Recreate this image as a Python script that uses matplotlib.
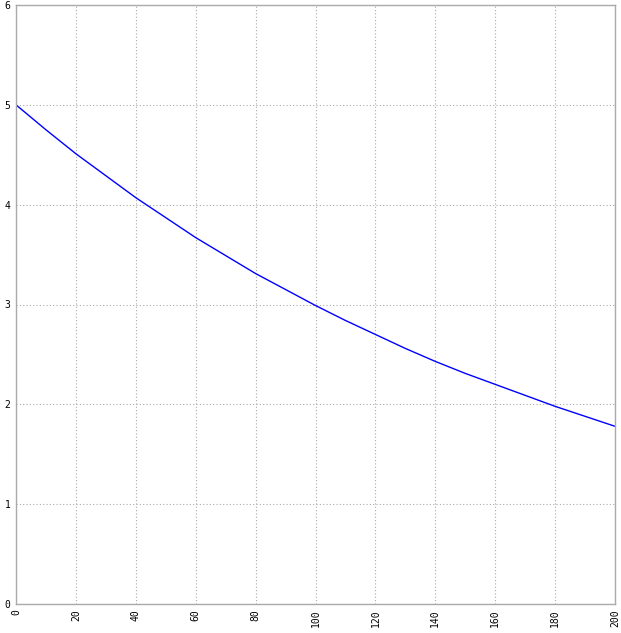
import matplotlib
matplotlib.use("Agg")
import matplotlib.pyplot as plt

x_values = [0, 10, 20, 30, 40, 50, 60, 70, 80, 90, 100, 110, 120, 130, 140, 150, 160, 170, 180, 190, 200]
y_values = [5.00, 4.75, 4.51, 4.29, 4.07, 3.87, 3.67, 3.49, 3.31, 3.15, 2.99, 2.84, 2.70, 2.56, 2.43, 2.31, 2.20, 2.09, 1.98, 1.88, 1.78]
x_ticks = [0, 20, 40, 60, 80, 100, 120, 140, 160, 180, 200]
y_ticks = [0, 1, 2, 3, 4, 5, 6]

fig = plt.figure(figsize=(6.21, 6.33), dpi=100)
ax = fig.add_axes([16/621, 1 - 604/633, (615-16)/621, (604-5)/633])
ax.plot(x_values, y_values, color="#0000ff", linewidth=1.0)
ax.set_xlim(0, 200)
ax.set_ylim(0, 6)
ax.set_xticks(x_ticks)
ax.set_yticks(y_ticks)
ax.set_xticklabels([str(t) for t in x_ticks], rotation=90, fontsize=7, family="DejaVu Sans Mono")
ax.set_yticklabels([str(t) for t in y_ticks], fontsize=7, family="DejaVu Sans Mono")
ax.tick_params(length=0, pad=4)
ax.grid(True, color="#aaaaaa", linestyle=(0, (1, 2)), linewidth=0.8)
for s in ax.spines.values():
    s.set_color("#aaaaaa")
    s.set_linewidth(1)
fig.savefig("out.png", dpi=100)
